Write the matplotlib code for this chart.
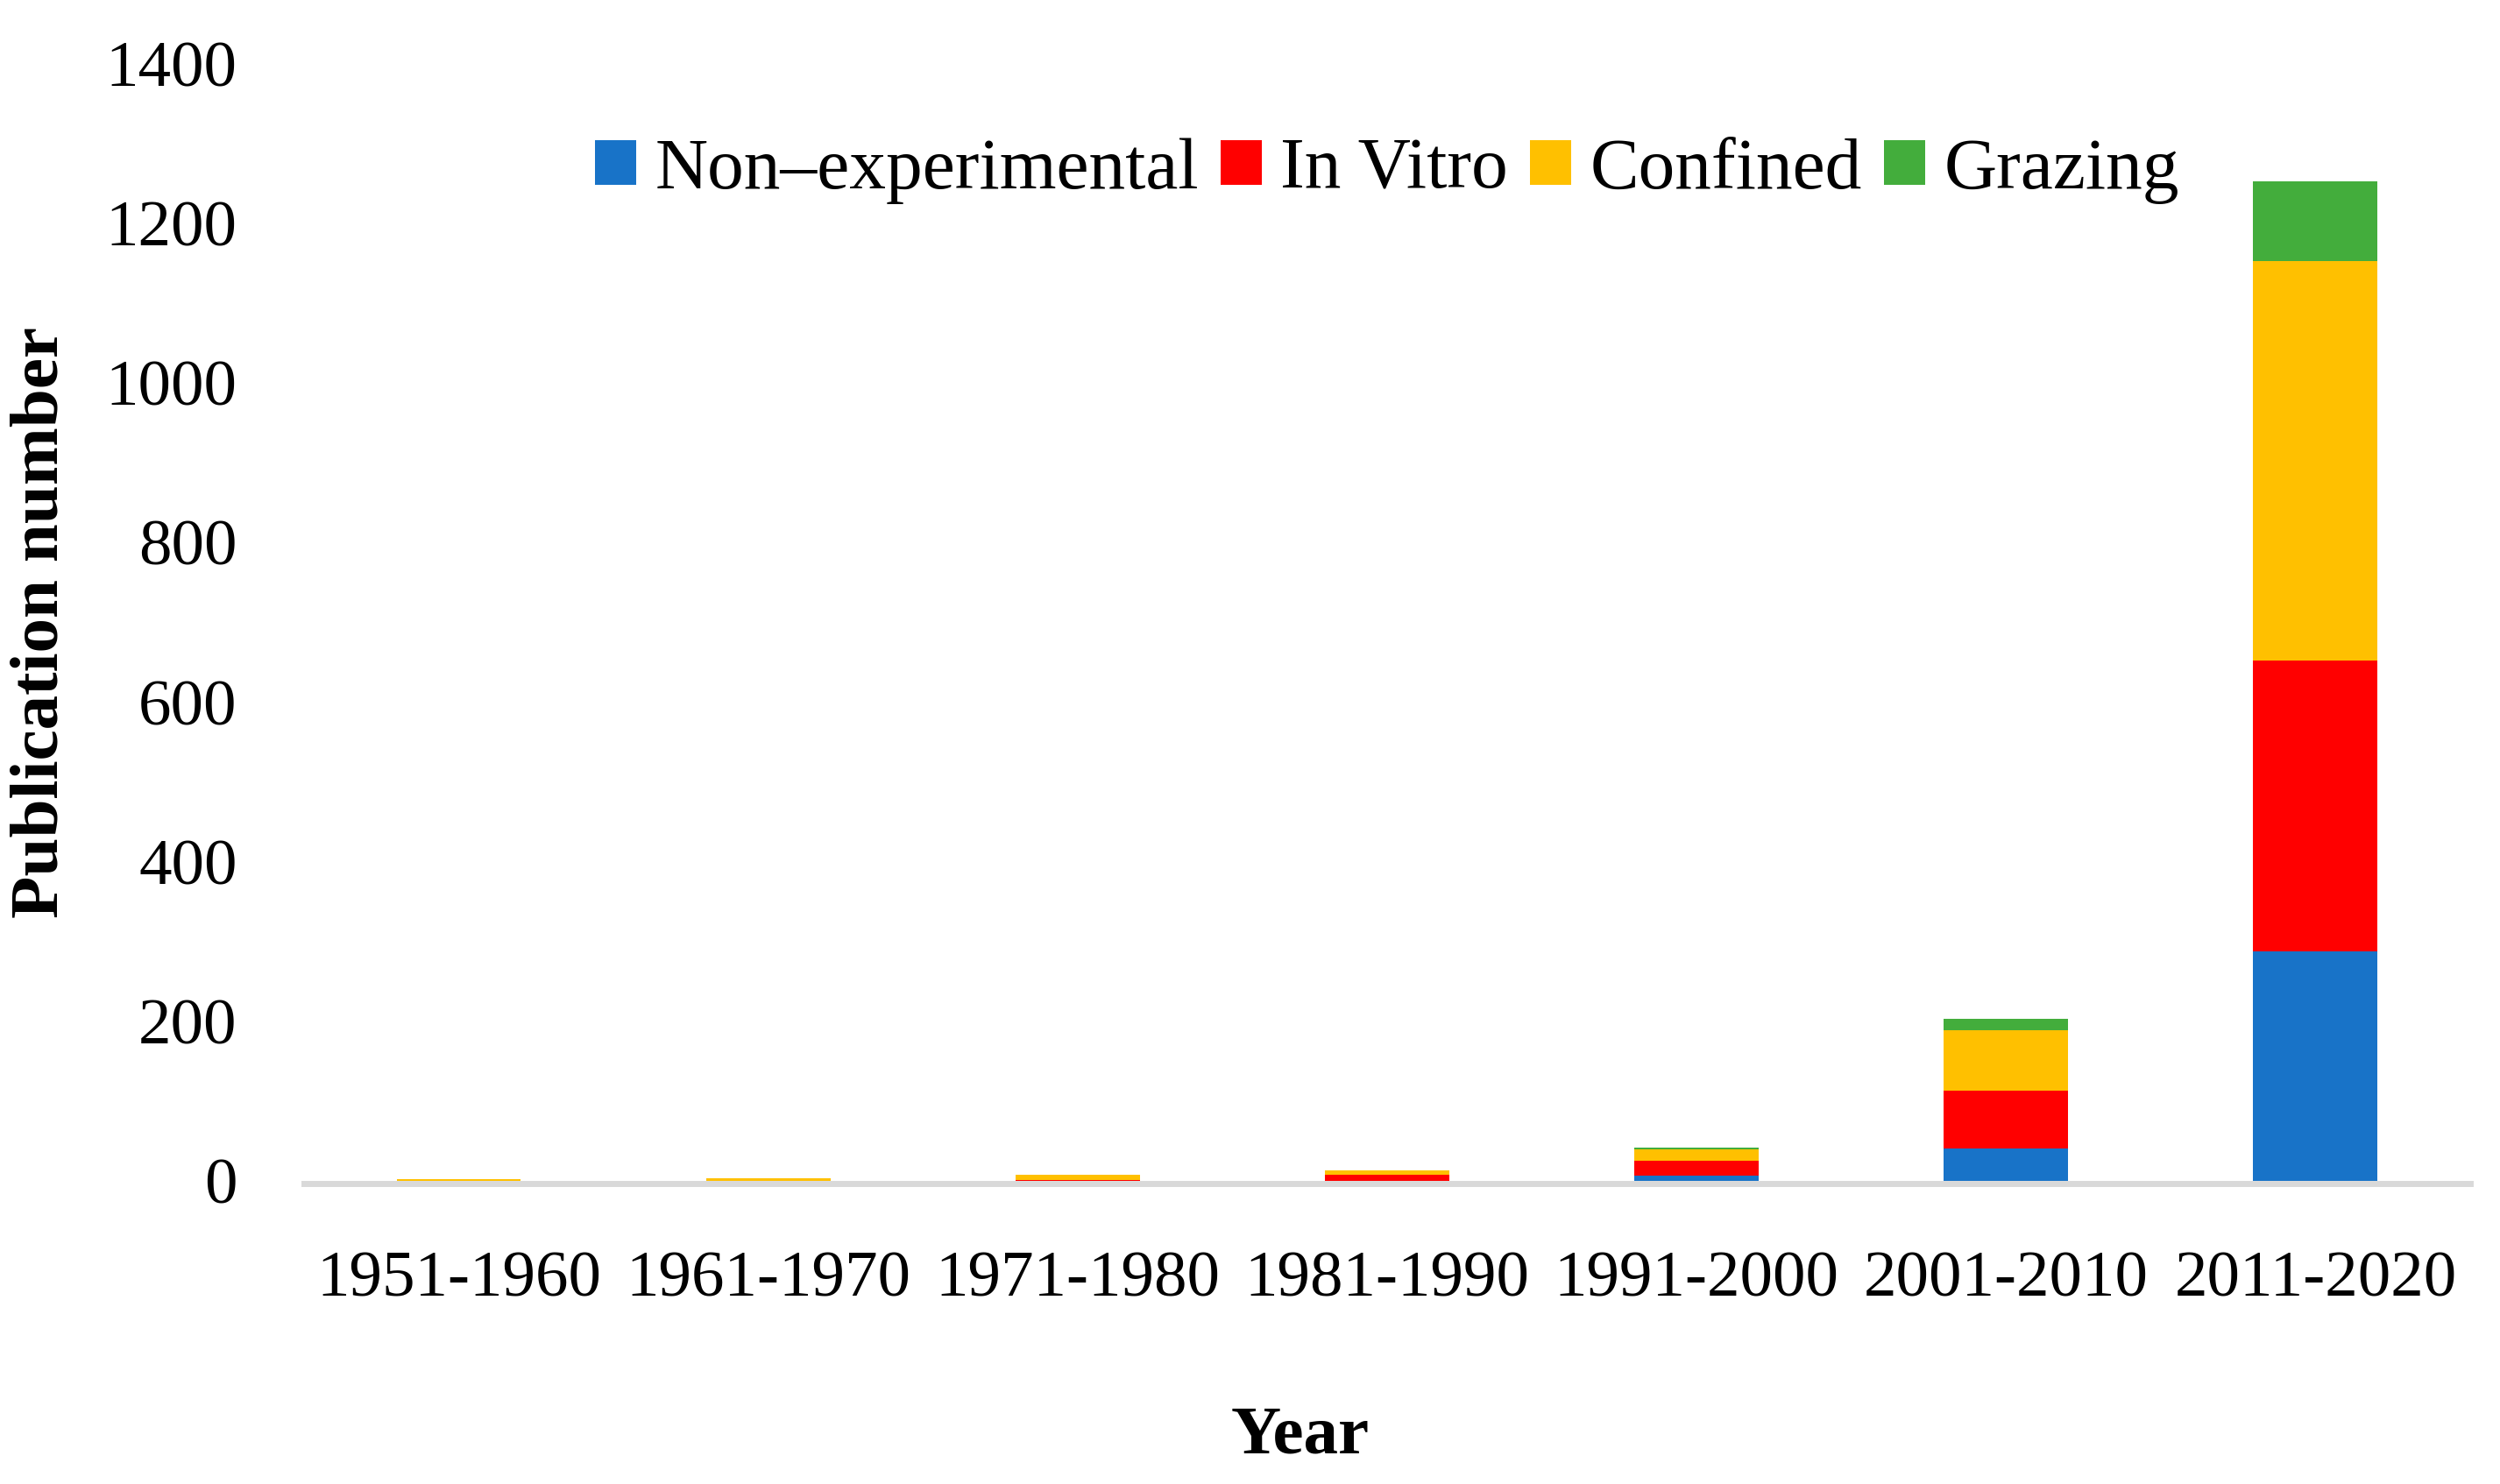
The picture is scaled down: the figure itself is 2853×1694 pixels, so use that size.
import matplotlib
matplotlib.use("Agg")
import matplotlib.pyplot as plt
import numpy as np

categories = ["1951-1960", "1961-1970", "1971-1980", "1981-1990", "1991-2000", "2001-2010", "2011-2020"]
non_experimental = [0, 0, 0, 0, 7, 40, 287]
in_vitro = [0, 0, 1, 8, 18, 73, 365]
confined = [2, 3, 7, 5, 14, 76, 501]
grazing = [0, 0, 0, 0, 3, 14, 99]
series_names = ["Non\u2013experimental", "In Vitro", "Confined", "Grazing"]
colors = ["#1873C8", "#FF0000", "#FFC000", "#43AD3C"]
yticks = [0, 200, 400, 600, 800, 1000, 1200, 1400]

plt.rcParams['font.family'] = ['Liberation Serif', 'DejaVu Serif']

fig = plt.figure(figsize=(28.53, 16.94), dpi=100)
ax = fig.add_axes([0.1216, 0.2043, 0.8665, 0.7529])

x = np.arange(len(categories))
bottom = np.zeros(len(categories))
for name, vals, c in zip(series_names, [non_experimental, in_vitro, confined, grazing], colors):
    ax.bar(x, vals, width=0.402, bottom=bottom, color=c, label=name, zorder=2)
    bottom += np.array(vals)

ax.set_xlim(-0.5, 6.5)
ax.set_ylim(0, 1400)
ax.set_yticks(yticks)
ax.set_yticklabels([str(v) for v in yticks])
ax.set_xticks(x)
ax.set_xticklabels(categories)
ax.tick_params(axis='both', length=0, labelsize=54)
ax.tick_params(axis='x', pad=55)
ax.tick_params(axis='y', pad=55)

for s in ['top', 'right', 'left']:
    ax.spines[s].set_visible(False)
ax.spines['bottom'].set_color('#D9D9D9')
ax.spines['bottom'].set_linewidth(5)
ax.spines['bottom'].set_position(('outward', 2.5))
ax.spines['bottom'].set_zorder(1)

ax.set_ylabel("Publication number", fontsize=57, fontweight='bold')
ax.yaxis.set_label_coords(-0.107, 0.5)
ax.set_xlabel("Year", fontsize=57, fontweight='bold')
ax.xaxis.set_label_coords(0.46, -0.201)

leg = ax.legend(loc='center', bbox_to_anchor=(0.5, 0.904), ncol=4, frameon=False,
                fontsize=60, handlelength=0.56, handleheight=0.56, handletextpad=0.26,
                columnspacing=0.3, borderaxespad=0)

fig.savefig("out.png", dpi=100, facecolor='white')
